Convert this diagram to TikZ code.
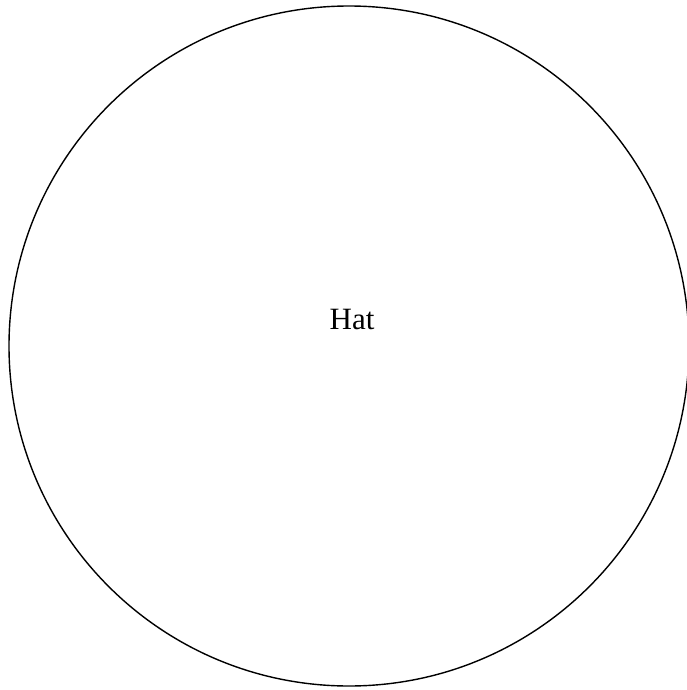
\documentclass[tikz,border=0pt]{standalone}
\usepackage{fontspec}
\setmainfont{Liberation Serif}
\tikzset{ring/.style={circle,draw=black,line width=1.4pt,minimum size=680pt,inner sep=0pt},
lbl/.style={font=\fontsize{31}{36}\selectfont,inner sep=0pt,anchor=base}}
\begin{document}
\begin{tikzpicture}[x=1pt,y=-1pt]
\useasboundingbox (0,0) rectangle (686,690);
\node[ring] (hat) at (349,346) {};
\node[lbl] (t) at (352,329) {Hat};
\end{tikzpicture}
\end{document}
